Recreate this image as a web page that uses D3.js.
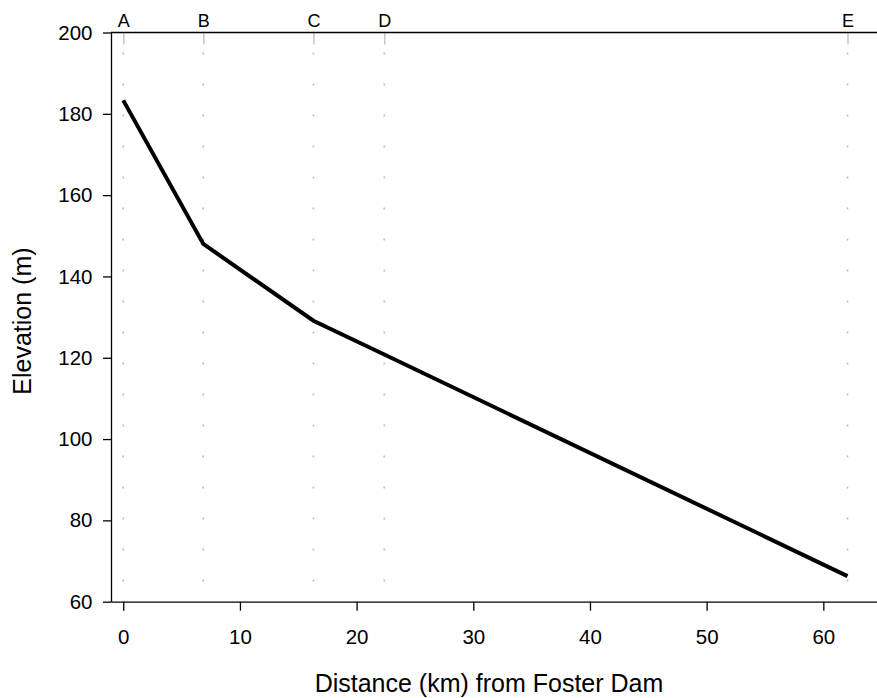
<!DOCTYPE html>
<html>
<head>
<meta charset="utf-8">
<script src="https://cdn.jsdelivr.net/npm/d3@7"></script>
<style>
  body { margin: 0; background: #fff; }
  svg text { font-family: "Liberation Sans", Arial, sans-serif; fill: #000; }
</style>
</head>
<body>
<div id="chart"></div>
<script>
// stations along the river
const stationLabels = ["A", "B", "C", "D", "E"];
const stationKm = [0, 6.86, 16.3, 22.37, 62.07];
const elevations = [183.3, 148, 129.1, 120.8, 66.3];

const xTicks = [0, 10, 20, 30, 40, 50, 60];
const yTicks = [60, 80, 100, 120, 140, 160, 180, 200];

const W = 877, H = 698;
const margin = {top: 32.5, right: 0, bottom: 96.3, left: 111};
const width = W - margin.left - margin.right;
const height = H - margin.top - margin.bottom;

const svg = d3.select("#chart")
    .append("svg")
    .attr("width", W)
    .attr("height", H);

const g = svg.append("g")
    .attr("transform", `translate(${margin.left},${margin.top})`);

const x = d3.scaleLinear()
    .domain([-1.05, 64.6])
    .range([0, width]);

const y = d3.scaleLinear()
    .domain([60, 200])
    .range([height, 0]);

const stations = stationLabels.map((s, i) => ({label: s, km: stationKm[i], elev: elevations[i]}));

// dotted station lines
g.selectAll(".station-line")
    .data(stations)
    .join("line")
    .attr("class", "station-line")
    .attr("x1", d => x(d.km))
    .attr("x2", d => x(d.km))
    .attr("y1", 0)
    .attr("y2", height)
    .attr("stroke", "#bdbdbd")
    .attr("stroke-width", 1.6)
    .attr("stroke-dasharray", "2,29")
    .attr("stroke-dashoffset", 11);

// top axis with station letters
const topAxis = d3.axisTop(x)
    .tickValues(stationKm)
    .tickFormat((d, i) => stationLabels[i])
    .tickSizeInner(-12)
    .tickSizeOuter(0)
    .tickPadding(6);

const gTop = g.append("g").call(topAxis);
gTop.select(".domain").remove();
gTop.selectAll(".tick line").attr("stroke", "#c8c8c8").attr("stroke-width", 1.6);
gTop.selectAll(".tick text").attr("font-size", 18);
g.append("line")
    .attr("x1", 0).attr("x2", width)
    .attr("y1", 0).attr("y2", 0)
    .attr("stroke", "#000").attr("stroke-width", 1.3);

// bottom axis
const xAxis = d3.axisBottom(x)
    .tickValues(xTicks)
    .tickSizeInner(9)
    .tickSizeOuter(0)
    .tickPadding(18.5);

const gx = g.append("g")
    .attr("transform", `translate(0,${height})`)
    .call(xAxis);
gx.select(".domain").attr("stroke-width", 1.3);
gx.selectAll(".tick line").attr("stroke-width", 1.3);
gx.selectAll(".tick text").attr("font-size", 20.5);

// left axis
const yAxis = d3.axisLeft(y)
    .tickValues(yTicks)
    .tickSizeInner(8)
    .tickSizeOuter(0)
    .tickPadding(10.5);

const gy = g.append("g").call(yAxis);
gy.select(".domain").attr("stroke-width", 1.3);
gy.selectAll(".tick line").attr("stroke-width", 1.3);
gy.selectAll(".tick text").attr("font-size", 20.5);

// elevation profile
const line = d3.line()
    .x(d => x(d.km))
    .y(d => y(d.elev));

g.append("path")
    .datum(stations)
    .attr("fill", "none")
    .attr("stroke", "#000")
    .attr("stroke-width", 4)
    .attr("stroke-linejoin", "miter")
    .attr("d", line);

// axis titles
svg.append("text")
    .attr("x", 489)
    .attr("y", 691.5)
    .attr("text-anchor", "middle")
    .attr("font-size", 25)
    .text("Distance (km) from Foster Dam");

svg.append("text")
    .attr("transform", `translate(31,${margin.top + height / 2 + 4}) rotate(-90)`)
    .attr("text-anchor", "middle")
    .attr("font-size", 25)
    .text("Elevation (m)");
</script>
</body>
</html>
